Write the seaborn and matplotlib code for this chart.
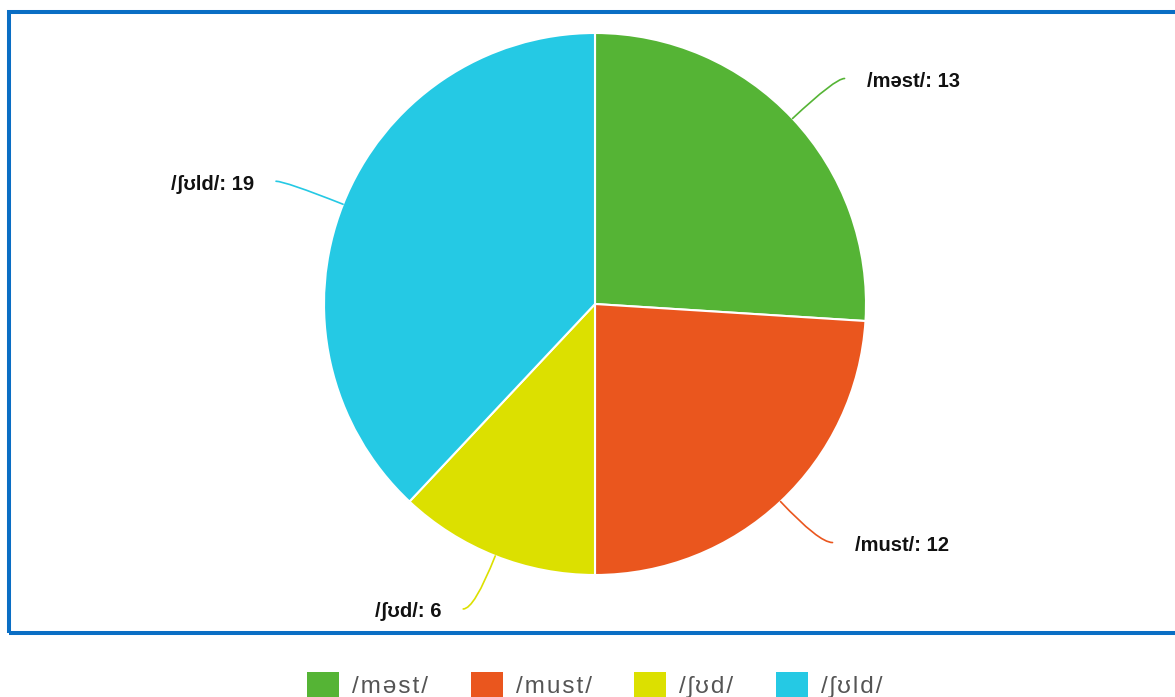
import matplotlib
matplotlib.use('Agg')
import matplotlib.pyplot as plt
import matplotlib.patches as mpatches
import seaborn as sns
import numpy as np

# data
labels = ['/məst/', '/must/', '/ʃʊd/', '/ʃʊld/']
counts = [13, 12, 6, 19]
colors = ['#55b435', '#ea561e', '#dce000', '#25c9e4']

sns.set_theme(style='white')
plt.rcParams['font.family'] = ['Liberation Sans', 'DejaVu Sans']

W, H = 1175, 697
fig = plt.figure(figsize=(W / 100, H / 100), dpi=100)
ax = fig.add_axes([0, 0, 1, 1])

cx, cy, r = 595, H - 304, 271

wedges, _ = ax.pie(counts, colors=colors, startangle=90, counterclock=False,
                   center=(cx, cy), radius=r, frame=True,
                   wedgeprops=dict(edgecolor='white', linewidth=1.5))
ax.set_xlim(0, W)
ax.set_ylim(0, H)
ax.set_aspect('equal')
ax.axis('off')

# data labels with curved connectors
conn_off = [(52, 40), (52, -41), (-32, -53), (-67, 23)]
for w, lab, n, c, off in zip(wedges, labels, counts, colors, conn_off):
    ang = np.deg2rad((w.theta1 + w.theta2) / 2)
    ex, ey = cx + r * np.cos(ang), cy + r * np.sin(ang)
    tx, ty = ex + off[0], ey + off[1]
    ax.annotate('', xy=(ex, ey), xytext=(tx, ty),
                arrowprops=dict(arrowstyle='-', color=c, lw=1.2,
                                shrinkA=0, shrinkB=0,
                                connectionstyle=f'angle3,angleA=0,angleB={np.rad2deg(ang):.1f}'))
    right = off[0] > 0
    ax.text(tx + (22 if right else -22), ty - 3, f'{lab}: {n}',
            ha='left' if right else 'right', va='center',
            fontsize=14.5, fontweight='bold', color='#111111')

# blue frame around the plot area
ax.add_patch(mpatches.Rectangle((9, H - 633), 1250, 633 - 11.5, fill=False,
                                edgecolor='#0a6ec4', linewidth=2.9, clip_on=False))

# legend (letter-spaced like the original)
spaced = ['\u200a'.join(lab) for lab in labels]
handles = [mpatches.Patch(facecolor=c, edgecolor='none') for c in colors]
fig.legend(handles, spaced, loc='center', bbox_to_anchor=(595 / W, 1 - 685 / H),
           ncol=4, frameon=False, fontsize=17.5, labelcolor='#555555',
           handlelength=1.3, handleheight=1.2, handletextpad=0.55,
           columnspacing=1.75)

fig.savefig('out.png', dpi=100)
